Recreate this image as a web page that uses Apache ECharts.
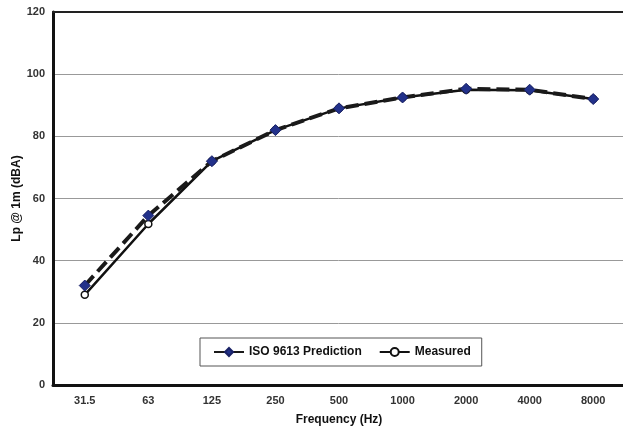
<!DOCTYPE html>
<html>
<head>
<meta charset="utf-8">
<script src="https://cdn.jsdelivr.net/npm/echarts@6/dist/echarts.min.js"></script>
<style>html,body{margin:0;padding:0;background:#fff}#c{width:623px;height:426px}</style>
</head>
<body>
<div id="c"></div>
<script>
const categories = ['31.5','63','125','250','500','1000','2000','4000','8000'];
const prediction = [32, 54.5, 72, 82, 89, 92.5, 95.3, 95, 92];
const measured = [29, 51.8, 72, 82, 89, 92.5, 95, 94.8, 92];
const yTicks = [0, 20, 40, 60, 80, 100, 120];

const font = 'Liberation Sans, Arial, sans-serif';
const chart = echarts.init(document.getElementById('c'));
chart.setOption({
  animation: false,
  backgroundColor: '#fff',
  grid: {left: 53, right: -2, top: 12, bottom: 41, containLabel: false, outerBoundsMode: 'none'},
  legend: {
    left: 200, top: 338,
    padding: [8, 11, 8, 13],
    itemGap: 17,
    itemWidth: 30, itemHeight: 10,
    borderColor: '#555', borderWidth: 1,
    textStyle: {fontFamily: font, fontWeight: 'bold', fontSize: 12, color: '#111'},
    data: ['ISO 9613 Prediction', 'Measured']
  },
  xAxis: [{
    type: 'category', data: categories, boundaryGap: true,
    axisLine: {lineStyle: {color: '#111', width: 3}},
    axisTick: {show: false},
    axisLabel: {fontFamily: font, fontWeight: 'bold', fontSize: 11, color: '#333', margin: 10},
    name: 'Frequency (Hz)', nameLocation: 'middle', nameGap: 29, nameMoveOverlap: false,
    nameTextStyle: {fontFamily: font, fontWeight: 'bold', fontSize: 12, color: '#111'}
  }, {
    type: 'category', data: categories, position: 'top',
    axisLine: {lineStyle: {color: '#222', width: 2}},
    axisTick: {show: false}, axisLabel: {show: false}
  }],
  yAxis: {
    type: 'value', min: yTicks[0], max: yTicks[yTicks.length - 1], interval: 20,
    axisLine: {show: true, lineStyle: {color: '#111', width: 3}},
    axisTick: {show: false},
    axisLabel: {fontFamily: font, fontWeight: 'bold', fontSize: 11, color: '#333', margin: 8},
    splitLine: {lineStyle: {color: '#999', width: 1}},
    name: 'Lp @ 1m (dBA)', nameLocation: 'middle', nameGap: 30, nameMoveOverlap: false,
    nameTextStyle: {fontFamily: font, fontWeight: 'bold', fontSize: 12, color: '#111'}
  },
  series: [{
    name: 'ISO 9613 Prediction', type: 'line', data: prediction,
    symbol: 'diamond', symbolSize: 11,
    lineStyle: {color: '#1a1a1a', width: 4, type: [13, 6]},
    itemStyle: {color: '#22318a', borderColor: '#1a2266', borderWidth: 1},
    z: 3
  }, {
    name: 'Measured', type: 'line', data: measured,
    symbol: 'circle', symbolSize: 7,
    lineStyle: {color: '#111', width: 2.5},
    itemStyle: {color: '#fff', borderColor: '#111', borderWidth: 1.5},
    z: 2
  }]
});
</script>
</body>
</html>
